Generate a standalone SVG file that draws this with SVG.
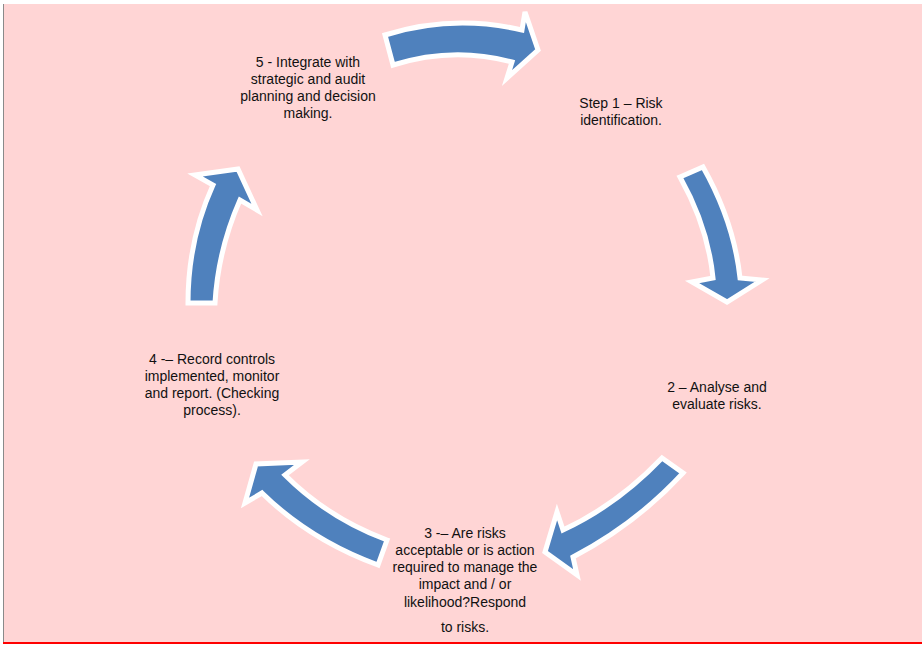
<svg xmlns="http://www.w3.org/2000/svg" width="922" height="646" viewBox="0 0 922 646">
<style>
.arrow{fill:#4F81BD;stroke:#FFFFFF;stroke-width:5;stroke-linejoin:miter}
.lbl{font-family:"Liberation Sans",Arial,sans-serif;font-size:14px;fill:#111111;text-anchor:middle}
</style>
<rect x="0" y="0" width="922" height="646" fill="#FFFFFF"/>
<rect x="3" y="4" width="919" height="639" fill="#FFD5D5"/>
<line x1="3.5" y1="4" x2="3.5" y2="643" stroke="#8a8a8a" stroke-width="1"/>
<line x1="3" y1="643" x2="922" y2="643" stroke="#FF0000" stroke-width="2"/>
<g id="connectors">
<path class="arrow" d="M385,35 Q453,14 522,30 L525,12 L538,50 L507,78 L512,62 Q453,46 393,65 Z"/>
<path class="arrow" d="M680,177 L703,167 Q734,222 740,278 L762,280 L727,302 L692,282 L713,278 Q708,227 680,177 Z"/>
<path class="arrow" d="M662,458 L683,473 Q636,524 573,557 L577,575 L545,552 L557,512 L563,530 Q617,505 662,458 Z"/>
<path class="arrow" d="M387,540 Q328,518 285,475 L302,462 L256,464 L245,503 L262,493 Q310,540 378,565 Z"/>
<path class="arrow" d="M188,303 Q188,240 213,185 L195,175 L238,169 L257,210 L240,200 Q218,250 215,303 Z"/>
</g>
<g id="node1">
<text class="lbl" x="621" y="108">Step 1 – Risk</text>
<text class="lbl" x="621" y="125">identification.</text>
</g>
<g id="node2">
<text class="lbl" x="717" y="392">2 – Analyse and</text>
<text class="lbl" x="717" y="409">evaluate risks.</text>
</g>
<g id="node3">
<text class="lbl" x="465" y="538">3 -– Are risks</text>
<text class="lbl" x="465" y="555">acceptable or is action</text>
<text class="lbl" x="465" y="572">required to manage the</text>
<text class="lbl" x="465" y="589">impact and / or</text>
<text class="lbl" x="465" y="607">likelihood?Respond</text>
<text class="lbl" x="465" y="632">to risks.</text>
</g>
<g id="node4">
<text class="lbl" x="212" y="364">4 -– Record controls</text>
<text class="lbl" x="212" y="381">implemented, monitor</text>
<text class="lbl" x="212" y="398">and report. (Checking</text>
<text class="lbl" x="212" y="415">process).</text>
</g>
<g id="node5">
<text class="lbl" x="308" y="67">5 - Integrate with</text>
<text class="lbl" x="308" y="84">strategic and audit</text>
<text class="lbl" x="308" y="101">planning and decision</text>
<text class="lbl" x="308" y="118">making.</text>
</g>
</svg>
